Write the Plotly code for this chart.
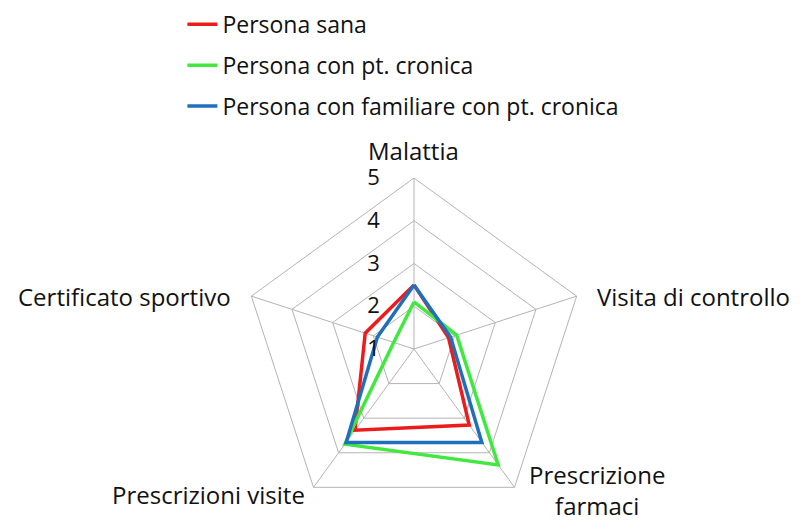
import plotly.graph_objects as go

# Categorie (assi del radar), in senso orario partendo dall'alto
categorie = ["Malattia", "Visita di controllo", "Prescrizione farmaci",
             "Prescrizioni visite", "Certificato sportivo"]

# Valori (scala 1-5)
persona_sana = [2.5, 1.85, 3.2, 3.35, 2.2]
persona_cronica = [2.1, 2.05, 4.35, 3.75, 1.5]
persona_familiare = [2.5, 1.9, 3.7, 3.7, 1.9]

serie = [
    ("Persona sana", persona_sana, "#ec1c1c"),
    ("Persona con pt. cronica", persona_cronica, "#40e840"),
    ("Persona con familiare con pt. cronica", persona_familiare, "#1f6fbb"),
]

griglia = "#b4b4b4"
font_base = "Open Sans"
W, H = 800, 521

fig = go.Figure()
for i, (nome, valori, colore) in enumerate(serie):
    # chiudo il poligono ripetendo il primo punto
    fig.add_trace(go.Scatterpolar(
        r=valori + valori[:1],
        theta=categorie + categorie[:1],
        mode="lines",
        name=nome,
        legendgroup=str(i),
        line=dict(color=colore, width=3.5),
    ))

# etichette delle categorie (posizione in pixel, ancoraggio)
etichette = [
    ("Malattia", 406, 142, "center"),
    ("Visita di controllo", 587, 288, "left"),
    ("Prescrizione<br>farmaci", 589, 482, "center"),
    ("Prescrizioni visite", 299, 486, "right"),
    ("Certificato sportivo", 225, 288, "right"),
]
for testo, px_x, px_y, anc in etichette:
    fig.add_annotation(
        text=testo, x=px_x / W, y=1 - px_y / H,
        xref="paper", yref="paper",
        xanchor=anc, yanchor="middle", align="center",
        showarrow=False, font=dict(size=24),
    )

fig.update_layout(
    width=W, height=H,
    paper_bgcolor="white",
    margin=dict(l=0, r=0, t=0, b=0, autoexpand=False),
    font=dict(family=font_base, size=24, color="#111111"),
    showlegend=True,
    legend=dict(
        x=0.218, y=1.01, xanchor="left", yanchor="top",
        font=dict(size=23),
        tracegroupgap=8,
        itemwidth=30,
    ),
    polar=dict(
        domain=dict(x=[235 / W, 577 / W], y=[9 / H, 351 / H]),
        bgcolor="white",
        gridshape="linear",
        angularaxis=dict(
            direction="clockwise",
            rotation=90,
            showline=True,
            linecolor=griglia,
            linewidth=1,
            gridcolor=griglia,
            gridwidth=1,
            ticks="",
            showticklabels=False,
        ),
        radialaxis=dict(
            range=[1, 5],
            tickvals=[1, 2, 3, 4, 5],
            angle=90,
            tickangle=90,
            side="counterclockwise",
            showline=False,
            gridcolor=griglia,
            gridwidth=1,
            ticks="outside",
            ticklen=26,
            tickcolor="rgba(0,0,0,0)",
            tickfont=dict(size=22),
        ),
    ),
)

fig.write_html("out.html")
